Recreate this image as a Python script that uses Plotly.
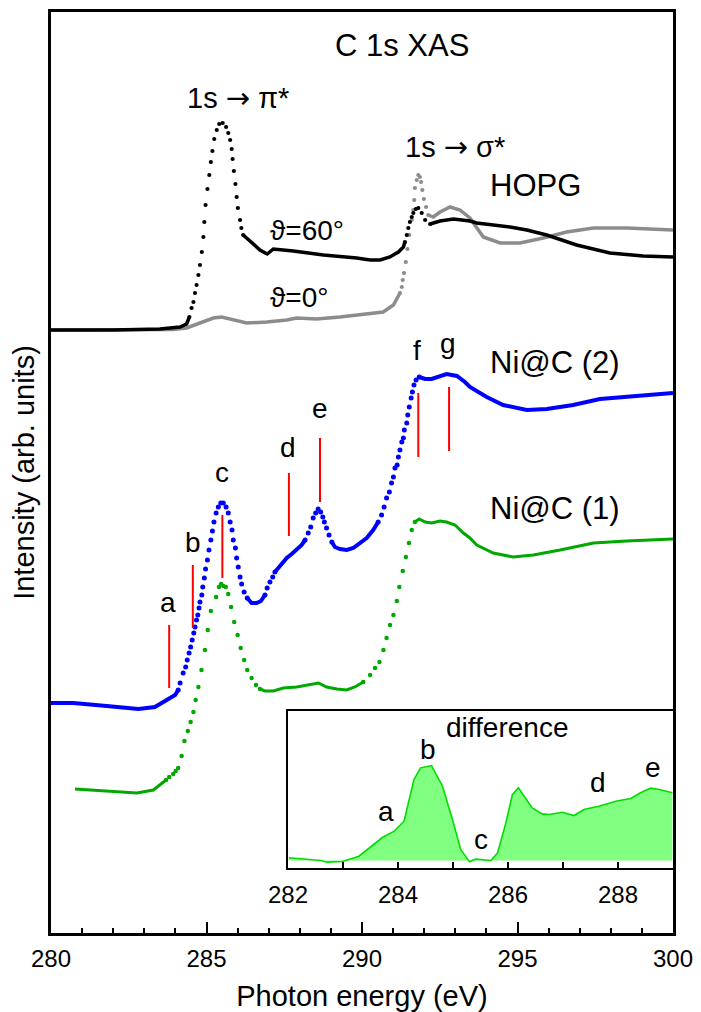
import plotly.graph_objects as go

FONT = "Liberation Sans, Arial, sans-serif"

# ---------------- data (energy in eV, intensity in arb. units incl. offsets) ----------------
hopg60_E = [280.00, 282.00, 283.50, 284.00, 284.15, 284.36,
            284.45, 284.52, 284.58, 284.63, 284.68, 284.74, 284.79, 284.85, 284.90, 284.93,
            284.97, 285.03, 285.09, 285.14, 285.19, 285.25, 285.33, 285.41, 285.52, 285.63,
            285.70, 285.76, 285.81, 285.84, 285.88, 285.93, 285.97, 286.01, 286.08, 286.12,
            286.18,
            286.45, 286.72, 286.95, 287.15, 287.79, 288.33, 288.76, 289.83, 290.26, 290.58,
            290.90, 291.17, 291.33,
            291.38, 291.44, 291.49, 291.54, 291.60, 291.65, 291.73, 291.81, 291.92, 292.03,
            292.19,
            292.51, 292.94, 293.47, 293.69, 294.76, 295.30, 295.94, 296.90, 297.97, 299.04,
            300.00]
hopg60_I = [6.03, 6.03, 6.04, 6.06, 6.06, 6.09,
            6.16, 6.25, 6.31, 6.40, 6.48, 6.58, 6.68, 6.81, 6.96, 7.11,
            7.28, 7.44, 7.58, 7.71, 7.82, 7.94, 8.03, 8.09, 8.10, 8.06,
            8.00, 7.93, 7.84, 7.74, 7.62, 7.49, 7.36, 7.25, 7.13, 7.05,
            6.98,
            6.90, 6.83, 6.79, 6.84, 6.82, 6.80, 6.78, 6.75, 6.73, 6.73,
            6.76, 6.81, 6.86,
            6.91, 6.98, 7.05, 7.11, 7.16, 7.20, 7.24, 7.25, 7.20, 7.13,
            7.09,
            7.12, 7.14, 7.12, 7.10, 7.06, 7.03, 6.98, 6.88, 6.80, 6.77,
            6.76]
hopg60_dotted = [(284.40, 286.20), (291.35, 292.20)]

hopg0_E = [280.00, 283.50, 283.92, 284.36, 284.79, 285.22, 285.49, 285.86, 286.29, 286.94,
           287.58, 287.90, 288.54, 289.29, 289.94, 290.58, 290.68, 291.01, 291.17,
           291.22, 291.28, 291.31, 291.35, 291.41, 291.46, 291.52, 291.60, 291.65, 291.68,
           291.70, 291.76, 291.81, 291.86, 291.90, 291.94, 291.99, 292.06, 292.13,
           292.29, 292.51, 292.83, 293.15, 293.47, 293.90, 294.44, 295.08, 295.83, 296.58,
           297.44, 298.51, 300.00]
hopg0_I = [6.03, 6.03, 6.035, 6.05, 6.10, 6.15, 6.16, 6.13, 6.10, 6.11,
           6.13, 6.15, 6.14, 6.16, 6.18, 6.20, 6.21, 6.28, 6.36,
           6.40, 6.46, 6.53, 6.60, 6.71, 6.84, 6.98, 7.13, 7.23, 7.33,
           7.45, 7.53, 7.58, 7.56, 7.51, 7.43, 7.34, 7.26, 7.18,
           7.16, 7.21, 7.26, 7.23, 7.15, 6.96, 6.90, 6.90, 6.95, 7.01,
           7.05, 7.05, 7.03]
hopg0_dotted = [(291.20, 292.15)]

nic2_E = [280.00, 280.72, 281.79, 282.81, 283.34, 283.72, 283.99,
          284.09, 284.15, 284.25, 284.33, 284.38, 284.44, 284.49, 284.54, 284.59, 284.63,
          284.68, 284.72, 284.76, 284.79, 284.85, 284.88, 284.93, 284.97, 285.03, 285.08,
          285.14, 285.19, 285.24, 285.31, 285.38, 285.46, 285.54, 285.63, 285.70, 285.76,
          285.82, 285.86, 285.93, 285.97, 286.02, 286.08, 286.13, 286.21, 286.31,
          286.45, 286.61, 286.75,
          286.88, 286.95, 287.04, 287.13, 287.20,
          287.31, 287.42, 287.58, 287.74, 287.90, 288.06,
          288.17, 288.27, 288.35, 288.43, 288.51, 288.59, 288.67, 288.74, 288.79, 288.86,
          288.94, 289.03,
          289.13, 289.29, 289.51, 289.72, 289.94, 290.15, 290.36,
          290.52, 290.63, 290.71, 290.79, 290.88, 290.95, 291.01, 291.06, 291.13, 291.17,
          291.22, 291.28, 291.33, 291.36, 291.44, 291.47, 291.52, 291.58, 291.62, 291.67,
          291.74, 291.84,
          292.03, 292.24, 292.51, 292.72, 293.05, 293.31, 293.47, 294.01, 294.54, 295.30,
          295.94, 296.79, 297.65, 298.51, 299.26, 300.00]
nic2_I = [2.30, 2.30, 2.27, 2.24, 2.26, 2.33, 2.38,
          2.43, 2.50, 2.60, 2.66, 2.73, 2.80, 2.86, 2.93, 3.00, 3.06,
          3.13, 3.18, 3.25, 3.31, 3.38, 3.46, 3.55, 3.64, 3.73, 3.83,
          3.93, 4.02, 4.11, 4.20, 4.26, 4.30, 4.30, 4.26, 4.20, 4.11,
          4.03, 3.93, 3.85, 3.75, 3.66, 3.56, 3.49, 3.41, 3.35,
          3.30, 3.30, 3.32,
          3.38, 3.45, 3.51, 3.56, 3.61,
          3.65, 3.70, 3.75, 3.79, 3.83, 3.88,
          3.93, 4.00, 4.06, 4.15, 4.20, 4.24, 4.21, 4.16, 4.11, 4.05,
          3.98, 3.91,
          3.86, 3.84, 3.83, 3.85, 3.90, 3.95, 4.03,
          4.11, 4.18, 4.26, 4.35, 4.41, 4.50, 4.56, 4.65, 4.68, 4.76,
          4.83, 4.91, 4.95, 5.03, 5.10, 5.18, 5.26, 5.35, 5.41, 5.48,
          5.53, 5.56,
          5.54, 5.54, 5.57, 5.59, 5.57, 5.51, 5.46, 5.36, 5.28, 5.23,
          5.24, 5.28, 5.34, 5.36, 5.38, 5.40]
nic2_dotted = [(284.05, 286.35), (286.85, 287.25), (288.15, 289.08), (290.45, 291.86)]

nic1_E = [280.77, 281.79, 282.76, 283.29, 283.50,
          283.70, 283.80, 283.93, 284.01, 284.09, 284.20, 284.29, 284.40, 284.49, 284.58,
          284.65, 284.74, 284.84, 284.95, 285.04, 285.14, 285.31, 285.40, 285.47, 285.54,
          285.62, 285.70, 285.79, 285.89, 286.00, 286.10, 286.21, 286.31, 286.45, 286.59,
          286.72, 286.88,
          287.15, 287.47, 287.90, 288.33, 288.60, 288.86, 289.19, 289.51, 289.77,
          290.04, 290.26, 290.42, 290.56, 290.69, 290.79, 290.90, 291.01, 291.12, 291.20,
          291.31, 291.41, 291.51, 291.60, 291.70,
          291.84, 292.03, 292.24, 292.51, 292.72, 292.99, 293.26, 293.47, 293.69, 294.22,
          294.86, 295.51, 296.37, 297.44, 298.51, 300.00]
nic1_I = [1.44, 1.42, 1.40, 1.43, 1.48,
          1.53, 1.56, 1.59, 1.62, 1.65, 1.77, 1.92, 2.02, 2.11, 2.21,
          2.33, 2.46, 2.63, 2.83, 3.03, 3.22, 3.36, 3.46, 3.49, 3.47,
          3.46, 3.39, 3.26, 3.11, 2.98, 2.85, 2.73, 2.63, 2.55, 2.48,
          2.44, 2.42,
          2.42, 2.45, 2.46, 2.48, 2.50, 2.46, 2.44, 2.43, 2.46,
          2.51, 2.58, 2.65, 2.71, 2.83, 2.95, 3.08, 3.18, 3.32, 3.46,
          3.62, 3.76, 3.90, 4.03, 4.11,
          4.14, 4.11, 4.10, 4.12, 4.11, 4.08, 4.00, 3.95, 3.88, 3.80,
          3.76, 3.78, 3.83, 3.90, 3.92, 3.94]
nic1_dotted = [(283.65, 286.80), (290.00, 291.75)]

# red feature markers (Ni@C (2))
feat_labels = ["a", "b", "c", "d", "e", "f", "g"]
feat_E = [283.80, 284.56, 285.51, 287.65, 288.65, 291.81, 292.80]
feat_lo = [2.45, 3.05, 3.55, 3.97, 4.31, 4.76, 4.82]
feat_hi = [3.08, 3.68, 4.18, 4.60, 4.95, 5.40, 5.46]
feat_txt_E = [283.77, 284.56, 285.49, 287.63, 288.65, 291.78, 292.78]
feat_txt_I = [3.31, 3.91, 4.61, 4.86, 5.25, 5.83, 5.90]

# inset: difference spectrum
diff_E = [282.02, 282.60, 282.71, 282.99, 283.29, 283.71, 283.93, 284.11, 284.29, 284.41,
          284.61, 284.81, 284.99, 285.14, 285.30, 285.41, 285.69, 285.81, 285.96, 286.08,
          286.19, 286.32, 286.44, 286.62, 286.75, 286.99, 287.20, 287.38, 287.65, 287.96,
          288.23, 288.41, 288.59, 288.75, 288.99]
diff_I = [0.018, 0.000, -0.011, -0.007, 0.029, 0.152, 0.196, 0.263, 0.542, 0.620,
          0.635, 0.497, 0.274, 0.074, -0.009, 0.009, 0.000, 0.050, 0.250, 0.440,
          0.486, 0.420, 0.352, 0.312, 0.308, 0.323, 0.301, 0.341, 0.363, 0.397,
          0.415, 0.453, 0.484, 0.475, 0.453]
inset_labels = ["difference", "b", "a", "c", "d", "e"]
inset_lab_E = [285.98, 284.55, 283.78, 285.51, 287.64, 288.64]
inset_lab_I = [0.89, 0.74, 0.33, 0.14, 0.52, 0.62]


def split(E, I, ranges):
    inside = [any(a <= e <= b for a, b in ranges) for e in E]
    lx, ly, mx, my = [], [], [], []
    n = len(E)
    for k in range(n):
        if inside[k]:
            mx.append(E[k]); my.append(I[k])
        edge = (not inside[k]) or (k > 0 and not inside[k - 1]) or (k < n - 1 and not inside[k + 1])
        if edge:
            lx.append(E[k]); ly.append(I[k])
        else:
            lx.append(None); ly.append(None)
    return lx, ly, mx, my


fig = go.Figure()

curves = [
    (hopg0_E, hopg0_I, hopg0_dotted, "#8c8c8c", 3.5, 4.2),
    (hopg60_E, hopg60_I, hopg60_dotted, "#000000", 3.5, 4.2),
    (nic1_E, nic1_I, nic1_dotted, "#00a800", 3.0, 4.5),
    (nic2_E, nic2_I, nic2_dotted, "#0000ff", 4.0, 5.0),
]
for E, I, rng, col, lw, ms in curves:
    lx, ly, mx, my = split(E, I, rng)
    fig.add_trace(go.Scatter(x=lx, y=ly, mode="lines", line=dict(color=col, width=lw),
                             connectgaps=False, showlegend=False, hoverinfo="skip"))
    fig.add_trace(go.Scatter(x=mx, y=my, mode="markers",
                             marker=dict(color=col, size=ms, line=dict(width=0)),
                             showlegend=False, hoverinfo="skip"))

# inset trace
fig.add_trace(go.Scatter(x=diff_E, y=diff_I, mode="lines", fill="tozeroy",
                         fillcolor="#80ff80", line=dict(color="#00dd00", width=1.6),
                         xaxis="x2", yaxis="y2", showlegend=False, hoverinfo="skip"))

# red marker lines
for e, lo, hi in zip(feat_E, feat_lo, feat_hi):
    fig.add_shape(type="line", xref="x", yref="y", x0=e, x1=e, y0=lo, y1=hi,
                  line=dict(color="#ff0000", width=2))

ann = []


def txt(x, y, s, size=29, xanchor="center", xref="x", yref="y"):
    ann.append(dict(x=x, y=y, xref=xref, yref=yref, text=s, showarrow=False,
                    xanchor=xanchor, yanchor="middle",
                    font=dict(family=FONT, size=size, color="black")))


ARROW = "<span style='font-family:DejaVu Sans'>\u2192</span>"
txt(291.27, 8.88, "C 1s XAS", 31)
txt(286.02, 8.35, "1s " + ARROW + " \u03c0*", 29)
txt(292.99, 7.86, "1s " + ARROW + " \u03c3*", 29)
txt(294.06, 7.48, "HOPG", 31, "left")
txt(288.22, 7.03, "\u03d1=60\u00b0", 28)
txt(287.97, 6.36, "\u03d1=0\u00b0", 28)
txt(294.06, 5.71, "Ni@C (2)", 31, "left")
txt(294.06, 4.25, "Ni@C (1)", 31, "left")
for s, x, y in zip(feat_labels, feat_txt_E, feat_txt_I):
    txt(x, y, s, 28)
for s, x, y in zip(inset_labels, inset_lab_E, inset_lab_I):
    txt(x, y, s, 28, xref="x2", yref="y2")

fig.update_layout(
    width=701, height=1012,
    margin=dict(l=51, r=28, t=12, b=79),
    paper_bgcolor="white", plot_bgcolor="white",
    font=dict(family=FONT, color="black"),
    annotations=ann,
    xaxis=dict(range=[280, 300], showline=True, linecolor="black", linewidth=2.5, mirror=True,
               showgrid=False, zeroline=False, ticks="inside", ticklen=11, tickwidth=2,
               tickcolor="black", tick0=280, dtick=5, tickfont=dict(size=24, family=FONT),
               ticklabelstandoff=2,
               minor=dict(dtick=1, tick0=280, ticks="inside", ticklen=5, tickwidth=2, tickcolor="black"),
               title=dict(text="Photon energy (eV)", font=dict(size=29, family=FONT), standoff=16),
               automargin=False),
    yaxis=dict(range=[0, 9.21], showline=True, linecolor="black", linewidth=2.5, mirror=True,
               showgrid=False, zeroline=False, ticks="", showticklabels=False,
               title=dict(text="Intensity (arb. units)", font=dict(size=29, family=FONT), standoff=6),
               automargin=False),
    xaxis2=dict(domain=[0.381, 1.0], anchor="y2", range=[282, 289], showline=True, linecolor="black",
                linewidth=2.2, mirror=True, showgrid=False, zeroline=False, ticks="inside", ticklen=6,
                tickwidth=2, tickcolor="black", tick0=282, dtick=2, tickfont=dict(size=24, family=FONT),
                ticklabelstandoff=4,
                minor=dict(dtick=1, tick0=282, ticks="inside", ticklen=6, tickwidth=2, tickcolor="black")),
    yaxis2=dict(domain=[0.0706, 0.241], anchor="x2", range=[-0.05, 1.0], showline=True, linecolor="black",
                linewidth=2.2, mirror=True, showgrid=False, zeroline=False, ticks="", showticklabels=False),
)

fig.write_html("out.html", config={"displayModeBar": False},
               post_script="document.body.style.margin='0';document.body.style.overflow='hidden';")
